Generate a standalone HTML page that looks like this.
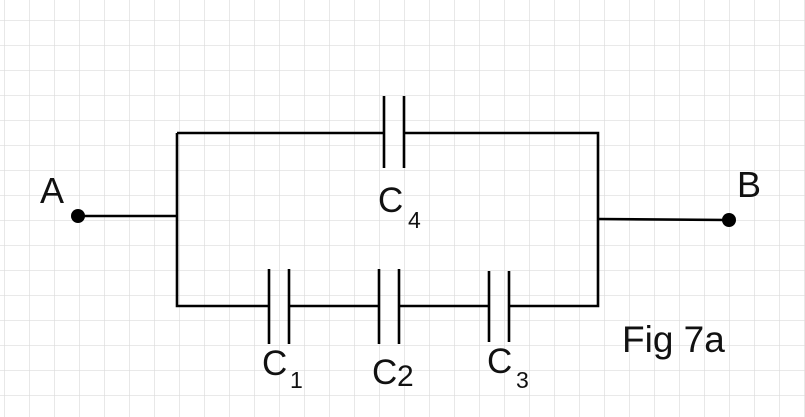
<!DOCTYPE html>
<html><head><style>
html,body{margin:0;padding:0;background:#fff;}
svg{display:block;}
text{font-family:"Liberation Sans",Arial,sans-serif;fill:#111;}
</style></head><body>
<svg width="805" height="417" viewBox="0 0 805 417">
<defs>
<pattern id="g" x="4" y="20" width="25" height="25" patternUnits="userSpaceOnUse">
<path d="M0 0H25M0 0V25" stroke="#dcdcdc" stroke-width="1.3" fill="none"/>
</pattern>
</defs>
<rect width="805" height="417" fill="url(#g)"/>
<g stroke="#000" stroke-width="2.6" fill="none">
<path d="M78 216H177M177 133V306H269M289 306H379M399 306H489M509 306H598V133H404M384 133H177"/>
<path d="M598 219L729 220"/>
<path d="M384 96V168M404 96V168"/>
<path d="M269 269V344M289 269V344"/>
<path d="M379 269V344M399 269V344"/>
<path d="M489 271V342M509 271V342"/>
</g>
<circle cx="78" cy="216" r="7" fill="#000"/>
<circle cx="729" cy="220" r="7" fill="#000"/>
<text x="40" y="203" font-size="36">A</text>
<text x="737" y="197" font-size="36">B</text>
<text x="378" y="212" font-size="35">C</text>
<text x="408" y="228" font-size="23">4</text>
<text x="262" y="375" font-size="35">C</text>
<text x="290" y="388" font-size="23">1</text>
<text x="372" y="384" font-size="35">C</text>
<text x="397" y="386" font-size="30">2</text>
<text x="487" y="373" font-size="35">C</text>
<text x="516" y="388" font-size="23">3</text>
<text x="622" y="352" font-size="37">Fig 7a</text>
</svg>
</body></html>
